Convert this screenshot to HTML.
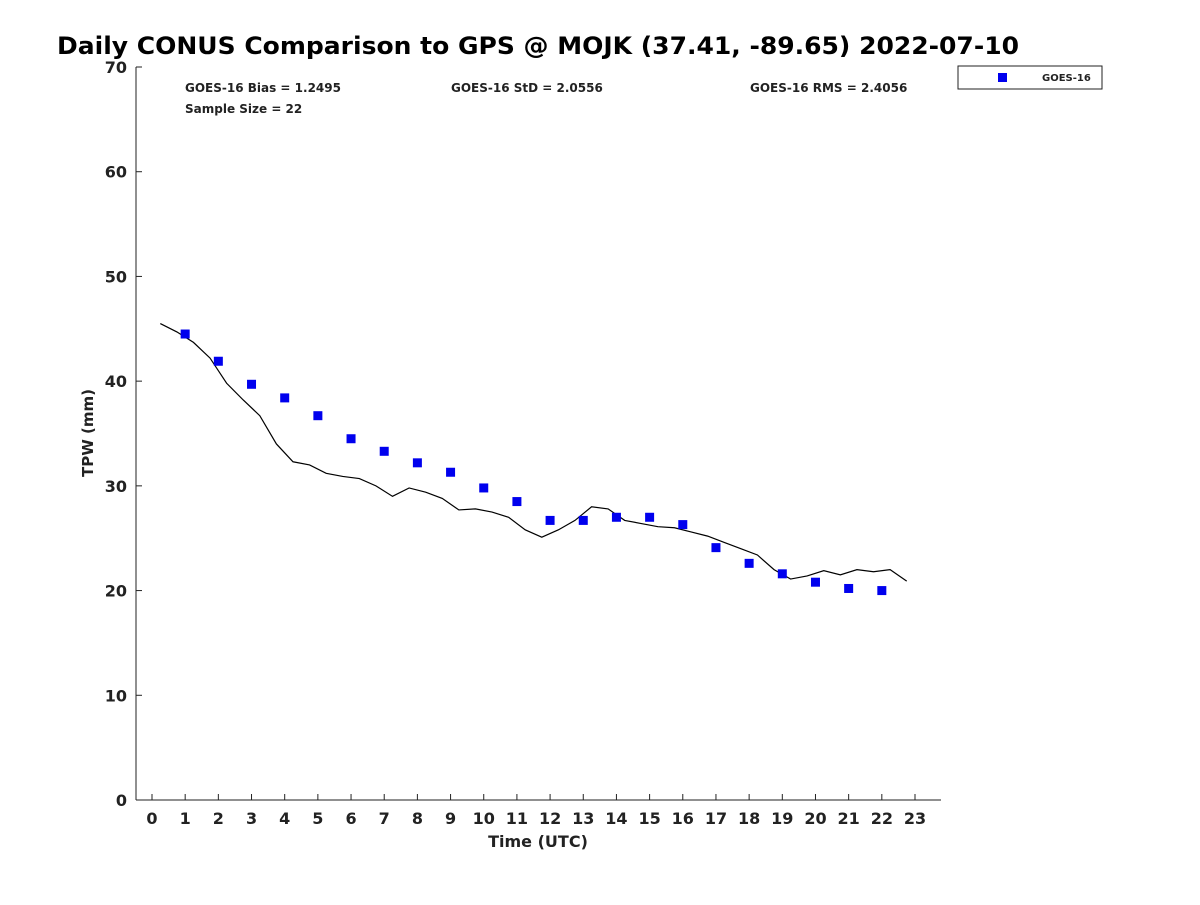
<!DOCTYPE html>
<html><head><meta charset="utf-8"><style>
body{margin:0;background:#fff;}
svg text{font-family:"DejaVu Sans","Liberation Sans",sans-serif;font-weight:bold;fill:#222;}
</style></head><body>
<svg id="chart" width="1200" height="900" xmlns="http://www.w3.org/2000/svg">
<rect width="1200" height="900" fill="#fff"/>
<text x="57" y="54" font-size="24" textLength="962" lengthAdjust="spacingAndGlyphs" style="fill:#000">Daily CONUS Comparison to GPS @ MOJK (37.41, -89.65) 2022-07-10</text>
<line x1="136" y1="67" x2="136" y2="800" stroke="#222"/>
<line x1="136" y1="800" x2="941" y2="800" stroke="#222"/>
<g id="xticks"></g><g id="yticks"></g>
<text x="538" y="847" font-size="16" text-anchor="middle">Time (UTC)</text>
<text transform="translate(93,433) rotate(-90)" font-size="15" text-anchor="middle">TPW (mm)</text>
<text x="185" y="92" font-size="12">GOES-16 Bias = 1.2495</text>
<text x="451" y="92" font-size="12">GOES-16 StD = 2.0556</text>
<text x="750" y="92" font-size="12">GOES-16 RMS = 2.4056</text>
<text x="185" y="113" font-size="12">Sample Size = 22</text>
<g id="series"></g>
<g>
<rect x="958" y="66" width="144" height="23" fill="#fff" stroke="#222"/>
<rect x="998" y="73" width="9" height="9" fill="#0000ee"/>
<text x="1042" y="81" font-size="10">GOES-16</text>
</g>
</svg>
<script>
const gpsTimes=[0.25,0.75,1.25,1.75,2.25,2.75,3.25,3.75,4.25,4.75,5.25,5.75,6.25,6.75,7.25,7.75,8.25,8.75,9.25,9.75,10.25,10.75,11.25,11.75,12.25,12.75,13.25,13.75,14.25,14.75,15.25,15.75,16.25,16.75,17.25,17.75,18.25,18.75,19.25,19.75,20.25,20.75,21.25,21.75,22.25,22.75];
const gpsValues=[45.5,44.7,43.7,42.2,39.8,38.2,36.7,34.0,32.3,32.0,31.2,30.9,30.7,30.0,29.0,29.8,29.4,28.8,27.7,27.8,27.5,27.0,25.8,25.1,25.8,26.7,28.0,27.8,26.7,26.4,26.1,26.0,25.6,25.2,24.6,24.0,23.4,22.0,21.1,21.4,21.9,21.5,22.0,21.8,22.0,20.9];
const goesTimes=[1,2,3,4,5,6,7,8,9,10,11,12,13,14,15,16,17,18,19,20,21,22];
const goesValues=[44.5,41.9,39.7,38.4,36.7,34.5,33.3,32.2,31.3,29.8,28.5,26.7,26.7,27.0,27.0,26.3,24.1,22.6,21.6,20.8,20.2,20.0];
const xTicks=[0,1,2,3,4,5,6,7,8,9,10,11,12,13,14,15,16,17,18,19,20,21,22,23];
const yTicks=[0,10,20,30,40,50,60,70];
const NS="http://www.w3.org/2000/svg";
const xs=v=>152+v*(915-152)/23;
const ys=v=>800-v*(733/70);
function mk(t,a,p){const e=document.createElementNS(NS,t);for(const k in a)e.setAttribute(k,a[k]);p.appendChild(e);return e;}
const xg=document.getElementById('xticks'),yg=document.getElementById('yticks'),sg=document.getElementById('series');
xTicks.forEach(t=>{
 const l=mk('line',{x1:xs(t),x2:xs(t),y1:800,y2:794,stroke:'#222'},xg);
 
 
 const tx=mk('text',{x:xs(t),y:824,'font-size':16,'text-anchor':'middle'},xg);tx.textContent=t;
 
 
});
yTicks.forEach(t=>{
 const l=mk('line',{x1:136,x2:142,y1:ys(t),y2:ys(t),stroke:'#222'},yg);
 
 
 const tx=mk('text',{x:127,y:ys(t)+6,'font-size':16,'text-anchor':'end'},yg);tx.textContent=t;
 
 
});
const pl=mk('polyline',{points:gpsTimes.map((t,i)=>xs(t)+','+ys(gpsValues[i])).join(' '),fill:'none',stroke:'#000','stroke-width':1.2},sg);


goesTimes.forEach((t,i)=>{
 const r=mk('rect',{x:xs(t)-4.5,y:ys(goesValues[i])-4.5,width:9,height:9,fill:'#0000ee'},sg);
 
 
});
</script>
</body></html>
